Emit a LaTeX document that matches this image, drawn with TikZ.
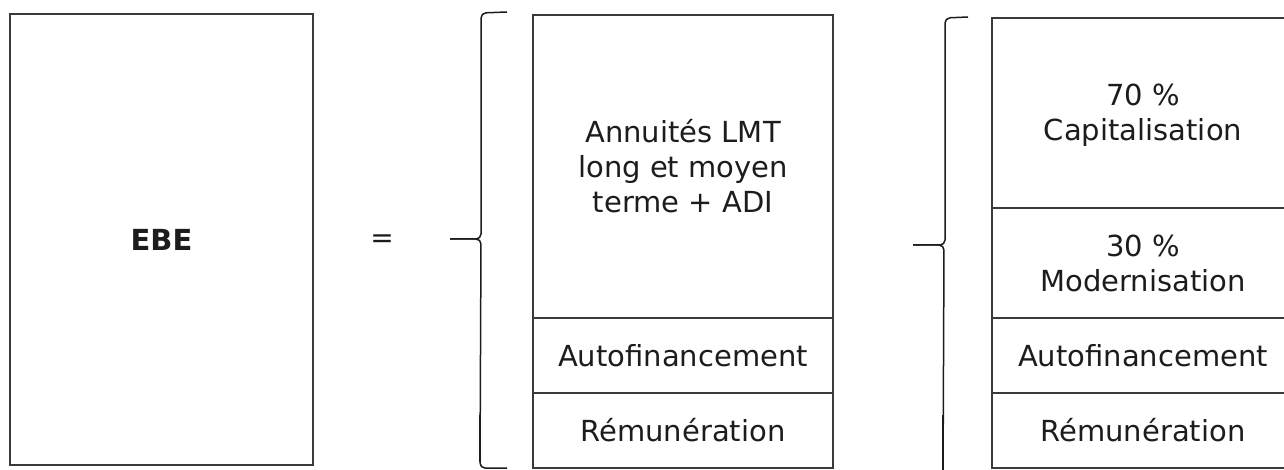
\documentclass[tikz,border=0pt]{standalone}
\usepackage{fontspec}
\setmainfont{DejaVu Sans}
\definecolor{ink}{HTML}{1C1C1C}
\definecolor{linegray}{HTML}{3A3A3A}
\begin{document}
\begin{tikzpicture}[x=1pt,y=-1pt,
  box/.style={draw=linegray, line width=1.3pt, inner sep=0pt, align=center,
    font=\fontsize{29}{35}\selectfont, text=ink},
  bracepath/.style={draw=ink, line width=1.5pt, rounded corners=5pt}]
\useasboundingbox (0,0) rectangle (1284,470);

% left block
\node[box, minimum width=303pt, minimum height=451pt] (ebe) at (161.5,239.5) {\textbf{EBE}};
\node[font=\fontsize{28}{35}\selectfont, text=ink, inner sep=0pt] (eq) at (382,241.5) {=};

% middle column
\node[box, minimum width=300pt, minimum height=303pt] (annu) at (683,166.5)
  {Annuités LMT\\long et moyen\\terme + ADI};
\node[box, minimum width=300pt, minimum height=75pt] (autoA) at (683,355.5) {Autofinancement};
\node[box, minimum width=300pt, minimum height=75pt] (remuA) at (683,430.5) {Rémunération};

% right column
\node[box, minimum width=302pt, minimum height=190pt] (capi) at (1143,113)
  {\rule{0pt}{27pt}70 \%\\Capitalisation};
\node[box, minimum width=302pt, minimum height=110pt] (moder) at (1143,263) {30 \%\\Modernisation};
\node[box, minimum width=302pt, minimum height=75pt] (autoB) at (1143,355.5) {Autofinancement};
\node[box, minimum width=302pt, minimum height=75pt] (remuB) at (1143,430.5) {Rémunération};

% first brace
\coordinate (btopA) at (507,12);
\coordinate (btipA) at (450,239);
\coordinate (bbotA) at (507,468);
\draw[bracepath] (btopA) -- (481,13) -- (481,239) -- (btipA);
\draw[bracepath] (btipA) -- (481,239) -- (480,468) -- (bbotA);
\draw[draw=ink, line width=2.1pt] (480,415) -- (480,462);

% second brace
\coordinate (btopB) at (968,17);
\coordinate (btipB) at (913,245);
\coordinate (bbotB) at (943,480);
\draw[bracepath] (btopB) -- (945,18) -- (945,245) -- (btipB);
\draw[bracepath] (btipB) -- (944,245) -- (bbotB);
\draw[draw=ink, line width=2.1pt] (943,415) -- (943,480);
\end{tikzpicture}
\end{document}
